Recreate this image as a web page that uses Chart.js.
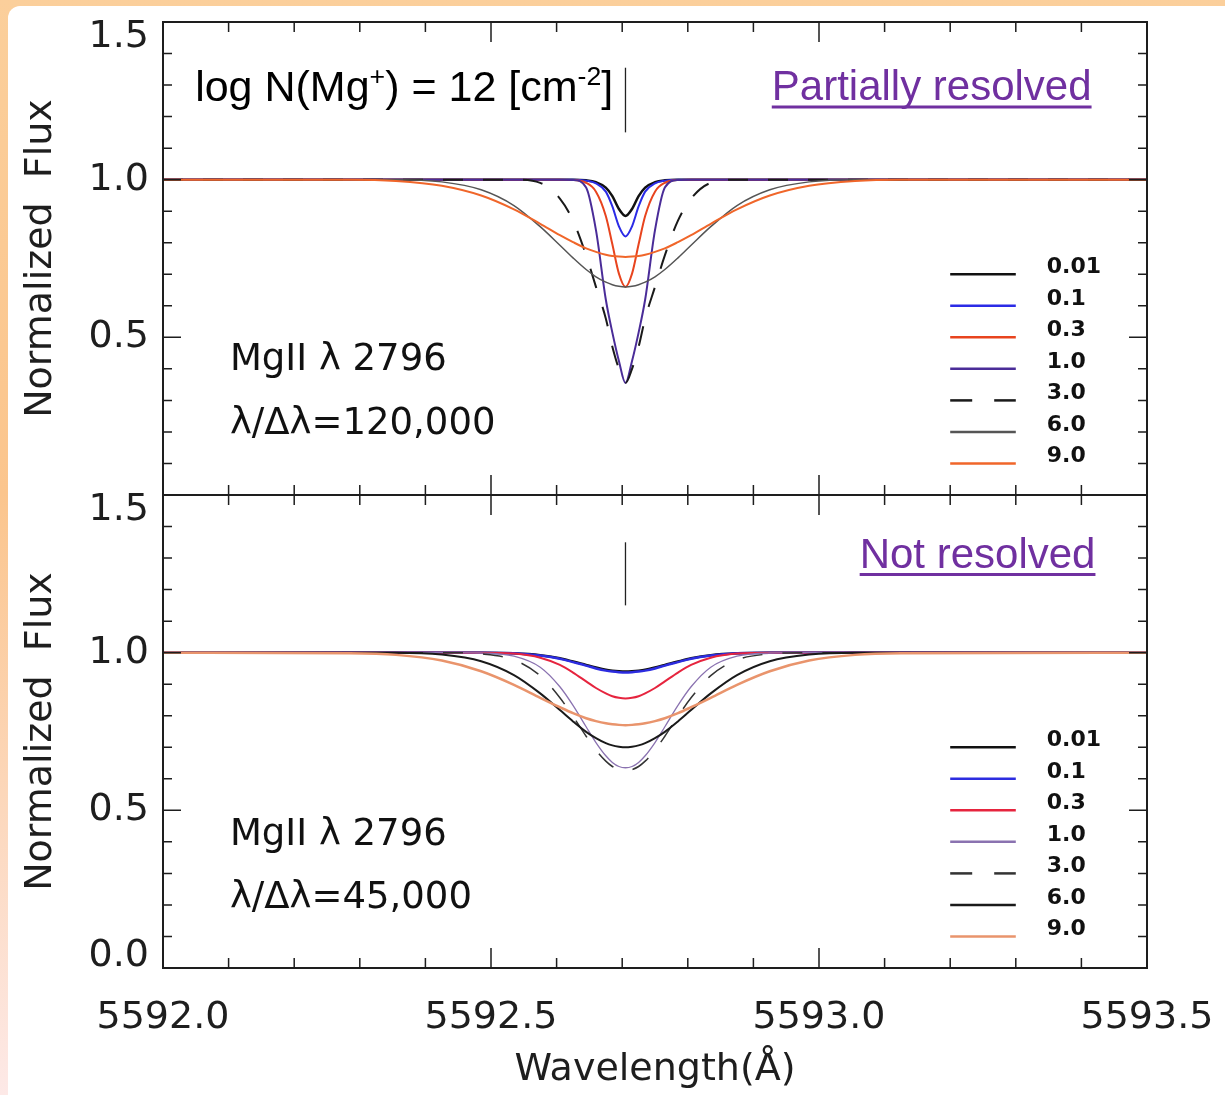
<!DOCTYPE html>
<html lang="en">
<head>
  <meta charset="UTF-8">
  <title>MgII 2796 profiles</title>
  <style>
    * {
      margin: 0;
      padding: 0;
      box-sizing: border-box;
    }

    body {
      width: 1225px;
      height: 1095px;
      overflow: hidden;
      position: relative;
      background: linear-gradient(to bottom, #fbcf9b 0%, #fbc58d 45%, #fde9e7 100%);
    }

    #paper {
      position: absolute;
      left: 8px;
      top: 6px;
      width: 1217px;
      height: 1089px;
      background: #fff;
      border-top-left-radius: 12px;
    }

    canvas {
      position: absolute;
      left: 0;
      top: 0;
    }
  </style>
  <script src="https://cdn.jsdelivr.net/npm/chart.js"></script>
</head>
<body>
  <div id="paper"></div>
  <canvas id="topChart" width="1225" height="1095"></canvas>
  <canvas id="bottomChart" width="1225" height="1095"></canvas>

  <script>
    // Wavelength grid (Angstrom), denser around the line centre
    const wavelength = [
      5592.0, 5592.285, 5592.355, 5592.425, 5592.485, 5592.535, 5592.575, 5592.605,
      5592.625, 5592.645, 5592.66, 5592.675, 5592.685, 5592.695, 5592.705,
      5592.715, 5592.725, 5592.735, 5592.75, 5592.765, 5592.785, 5592.805,
      5592.835, 5592.875, 5592.925, 5592.985, 5593.055, 5593.125, 5593.5
    ];

    const bValues = ['0.01', '0.1', '0.3', '1.0', '3.0', '6.0', '9.0'];

    // R = 120,000 profiles
    const hiRes001 = [1, 1, 1, 1, 1, 1, 1, 1, 1, 0.998, 0.992, 0.975, 0.948, 0.907, 0.885, 0.907, 0.948, 0.975, 0.992, 0.998, 1, 1, 1, 1, 1, 1, 1, 1, 1];
    const hiRes01  = [1, 1, 1, 1, 1, 1, 1, 1, 1, 0.997, 0.988, 0.962, 0.915, 0.852, 0.820, 0.852, 0.915, 0.962, 0.988, 0.997, 1, 1, 1, 1, 1, 1, 1, 1, 1];
    const hiRes03  = [1, 1, 1, 1, 1, 1, 1, 1, 0.999, 0.990, 0.962, 0.885, 0.795, 0.702, 0.660, 0.702, 0.795, 0.885, 0.962, 0.990, 0.999, 1, 1, 1, 1, 1, 1, 1, 1];
    const hiRes1   = [1, 1, 1, 1, 1, 1, 1, 1, 0.999, 0.975, 0.840, 0.620, 0.515, 0.425, 0.355, 0.425, 0.515, 0.620, 0.840, 0.975, 0.999, 1, 1, 1, 1, 1, 1, 1, 1];
    const hiRes3   = [1, 1, 1, 1, 1, 1, 0.990, 0.940, 0.870, 0.760, 0.660, 0.560, 0.470, 0.400, 0.355, 0.400, 0.470, 0.560, 0.660, 0.760, 0.870, 0.940, 0.990, 1, 1, 1, 1, 1, 1];
    const hiRes6   = [1, 1, 1, 0.993, 0.968, 0.918, 0.851, 0.792, 0.752, 0.715, 0.692, 0.675, 0.667, 0.662, 0.660, 0.662, 0.667, 0.675, 0.692, 0.715, 0.752, 0.792, 0.851, 0.918, 0.968, 0.993, 1, 1, 1];
    const hiRes9   = [1, 1, 0.996, 0.981, 0.950, 0.906, 0.860, 0.824, 0.802, 0.782, 0.771, 0.762, 0.758, 0.756, 0.755, 0.756, 0.758, 0.762, 0.771, 0.782, 0.802, 0.824, 0.860, 0.906, 0.950, 0.981, 0.996, 1, 1];

    // R = 45,000 profiles
    const loRes001 = [1, 1, 1, 1, 1, 0.998, 0.992, 0.982, 0.972, 0.961, 0.953, 0.946, 0.943, 0.941, 0.940, 0.941, 0.943, 0.946, 0.953, 0.961, 0.972, 0.982, 0.992, 0.998, 1, 1, 1, 1, 1];
    const loRes01  = [1, 1, 1, 1, 1, 0.998, 0.991, 0.981, 0.970, 0.959, 0.950, 0.943, 0.940, 0.938, 0.937, 0.938, 0.940, 0.943, 0.950, 0.959, 0.970, 0.981, 0.991, 0.998, 1, 1, 1, 1, 1];
    const loRes03  = [1, 1, 1, 1, 1, 0.997, 0.984, 0.961, 0.937, 0.909, 0.888, 0.871, 0.862, 0.857, 0.855, 0.857, 0.862, 0.871, 0.888, 0.909, 0.937, 0.961, 0.984, 0.997, 1, 1, 1, 1, 1];
    const loRes1   = [1, 1, 1, 1, 0.999, 0.989, 0.954, 0.892, 0.833, 0.765, 0.715, 0.673, 0.652, 0.639, 0.635, 0.639, 0.652, 0.673, 0.715, 0.765, 0.833, 0.892, 0.954, 0.989, 0.999, 1, 1, 1, 1];
    const loRes3   = [1, 1, 1, 1, 0.996, 0.977, 0.927, 0.857, 0.798, 0.735, 0.691, 0.656, 0.639, 0.629, 0.625, 0.629, 0.639, 0.656, 0.691, 0.735, 0.798, 0.857, 0.927, 0.977, 0.996, 1, 1, 1, 1];
    const loRes6   = [1, 1, 1, 0.994, 0.973, 0.929, 0.871, 0.818, 0.782, 0.749, 0.729, 0.713, 0.706, 0.702, 0.700, 0.702, 0.706, 0.713, 0.729, 0.749, 0.782, 0.818, 0.871, 0.929, 0.973, 0.994, 1, 1, 1];
    const loRes9   = [1, 0.998, 0.993, 0.975, 0.941, 0.898, 0.857, 0.827, 0.808, 0.792, 0.783, 0.776, 0.773, 0.771, 0.770, 0.771, 0.773, 0.776, 0.783, 0.792, 0.808, 0.827, 0.857, 0.898, 0.941, 0.975, 0.993, 0.998, 1];

    // rest wavelength marker (x) and its flux extent in each panel
    const markerX = 5592.705;
    const markerTopFlux = [1.15, 1.355];
    const markerBottomFlux = [1.15, 1.35];

    const xTickLabels = ['5592.0', '5592.5', '5593.0', '5593.5'];
    const yTickLabels = ['0.0', '0.5', '1.0', '1.5'];

    const hiStyles = [
      { color: '#111111', width: 2.5 },
      { color: '#2b2be6', width: 2 },
      { color: '#e8441e', width: 2 },
      { color: '#4a2c98', width: 2 },
      { color: '#1a1a1a', width: 2, dash: [20, 20] },
      { color: '#555555', width: 1.5 },
      { color: '#f0662a', width: 2 }
    ];
    const loStyles = [
      { color: '#111111', width: 2.5 },
      { color: '#2c2ce0', width: 2.5 },
      { color: '#e6243e', width: 2 },
      { color: '#8a72b0', width: 1.3 },
      { color: '#333333', width: 1.5, dash: [20, 20] },
      { color: '#1a1a1a', width: 2 },
      { color: '#e9946c', width: 2.5 }
    ];

    const axisFont = { family: 'DejaVu Sans', size: 38 };
    const inkColor = '#1e1e1e';

    function profileSets(fluxes, styles) {
      const n = fluxes.length;
      return fluxes.map((f, i) => ({
        label: bValues[i],
        data: wavelength.map((w, j) => ({ x: w, y: f[j] })),
        borderColor: styles[i].color,
        borderWidth: styles[i].width,
        borderDash: styles[i].dash || [],
        pointRadius: 0,
        fill: false,
        cubicInterpolationMode: 'monotone',
        order: n - i
      }));
    }

    function markerSet(fluxRange) {
      return {
        label: 'marker',
        data: fluxRange.map(f => ({ x: markerX, y: f })),
        borderColor: '#222',
        borderWidth: 1.3,
        pointRadius: 0,
        tension: 0,
        order: 20
      };
    }

    // frame, inward ticks, y labels, legend and text for one panel
    const panelDecor = {
      id: 'panelDecor',
      afterDatasetsDraw(chart, args, o) {
        const ctx = chart.ctx;
        const a = chart.chartArea;
        const xs = chart.scales.x;
        const ys = chart.scales.y;
        ctx.save();

        ctx.strokeStyle = inkColor;
        ctx.lineWidth = 2;
        ctx.strokeRect(a.left, a.top, a.right - a.left, a.bottom - a.top);

        ctx.lineWidth = 1.5;
        ctx.beginPath();
        for (let i = 0; i <= 15; i++) {
          const px = xs.getPixelForValue(xs.min + i * 0.1);
          const len = i % 5 === 0 ? 20 : 10;
          ctx.moveTo(px, a.top); ctx.lineTo(px, a.top + len);
          ctx.moveTo(px, a.bottom); ctx.lineTo(px, a.bottom - len);
        }
        for (let i = 0; i <= 15; i++) {
          const py = ys.getPixelForValue(i * 0.1);
          const len = i % 5 === 0 ? 18 : 9;
          ctx.moveTo(a.left, py); ctx.lineTo(a.left + len, py);
          ctx.moveTo(a.right, py); ctx.lineTo(a.right - len, py);
        }
        ctx.stroke();

        // y tick labels, the end ones pulled inside the panel
        ctx.fillStyle = inkColor;
        ctx.font = '38px "DejaVu Sans"';
        ctx.textAlign = 'right';
        ctx.textBaseline = 'middle';
        yTickLabels.forEach(t => {
          const v = parseFloat(t);
          if (o.skipZero && v === 0) return;
          let py = ys.getPixelForValue(v);
          if (v === ys.max) py += 15;
          if (v === ys.min) py -= 12;
          ctx.fillText(t, a.left - 14, py);
        });

        // legend: line sample + b value
        const sets = chart.data.datasets.filter(d => bValues.includes(d.label));
        const x0 = xs.getPixelForValue(5593.2);
        const x1 = xs.getPixelForValue(5593.3);
        ctx.font = 'bold 22px "DejaVu Sans"';
        ctx.textAlign = 'left';
        sets.forEach((d, i) => {
          const py = ys.getPixelForValue(0.7 - i * 0.1);
          ctx.strokeStyle = d.borderColor;
          ctx.lineWidth = 2.5;
          ctx.setLineDash(d.borderDash.length ? [22, 22] : []);
          ctx.beginPath();
          ctx.moveTo(x0, py); ctx.lineTo(x1, py);
          ctx.stroke();
          ctx.setLineDash([]);
          ctx.fillStyle = '#111';
          ctx.fillText(d.label, x1 + 31, py - 7);
        });

        // annotations placed in data coordinates
        o.notes.forEach(n => {
          let px = xs.getPixelForValue(n.x);
          const py = ys.getPixelForValue(n.y);
          ctx.fillStyle = n.color || '#111';
          ctx.textAlign = 'left';
          ctx.textBaseline = 'alphabetic';
          const start = px;
          n.parts.forEach(p => {
            const size = p.sup ? n.size * 0.62 : n.size;
            ctx.font = size + 'px ' + n.family;
            ctx.fillText(p.t, px, p.sup ? py - n.size * 0.38 : py);
            px += ctx.measureText(p.t).width;
          });
          if (n.underline) {
            ctx.strokeStyle = n.color;
            ctx.lineWidth = 3;
            ctx.beginPath();
            ctx.moveTo(start, py + 7);
            ctx.lineTo(px, py + 7);
            ctx.stroke();
          }
        });

        ctx.restore();
      }
    };

    function yScale(showTitle) {
      return {
        type: 'linear',
        min: 0,
        max: 1.5,
        ticks: { display: false },
        grid: { display: false },
        border: { display: false },
        title: {
          display: showTitle,
          text: 'Normalized  Flux',
          color: inkColor,
          font: axisFont,
          padding: { top: 18, bottom: 0 }
        },
        afterFit: s => { s.width = 163; }
      };
    }

    const idl = '"DejaVu Sans"';
    const arial = '"Liberation Sans", Arial';

    new Chart(document.getElementById('topChart'), {
      type: 'line',
      data: {
        datasets: profileSets([hiRes001, hiRes01, hiRes03, hiRes1, hiRes3, hiRes6, hiRes9], hiStyles)
          .concat([markerSet(markerTopFlux)])
      },
      options: {
        responsive: false,
        animation: false,
        events: [],
        layout: { padding: { left: 0, top: 22, right: 78, bottom: 600 } },
        scales: {
          x: { type: 'linear', min: 5592, max: 5593.5, display: false },
          y: yScale(true)
        },
        plugins: {
          legend: { display: false },
          tooltip: { enabled: false },
          panelDecor: {
            skipZero: true,
            notes: [
              { x: 5592.049, y: 1.248, size: 43, family: arial, color: '#000',
                parts: [{ t: 'log N(Mg' }, { t: '+', sup: true }, { t: ') = 12 [cm' }, { t: '-2', sup: true }, { t: ']' }] },
              { x: 5592.928, y: 1.253, size: 42, family: arial, color: '#7030a0', underline: true,
                parts: [{ t: 'Partially resolved' }] },
              { x: 5592.102, y: 0.395, size: 37, family: idl, parts: [{ t: 'MgII λ 2796' }] },
              { x: 5592.102, y: 0.195, size: 37, family: idl, parts: [{ t: 'λ/Δλ=120,000' }] }
            ]
          }
        }
      },
      plugins: [panelDecor]
    });

    new Chart(document.getElementById('bottomChart'), {
      type: 'line',
      data: {
        datasets: profileSets([loRes001, loRes01, loRes03, loRes1, loRes3, loRes6, loRes9], loStyles)
          .concat([markerSet(markerBottomFlux)])
      },
      options: {
        responsive: false,
        animation: false,
        events: [],
        layout: { padding: { left: 0, top: 495, right: 78, bottom: 0 } },
        scales: {
          x: {
            type: 'linear',
            min: 5592,
            max: 5593.5,
            grid: { display: false },
            border: { display: false },
            ticks: {
              stepSize: 0.5,
              autoSkip: false,
              maxRotation: 0,
              padding: 19,
              color: inkColor,
              font: axisFont,
              callback: (v, i) => xTickLabels[i]
            },
            title: {
              display: true,
              text: 'Wavelength(Å)',
              color: inkColor,
              font: axisFont,
              padding: { top: 0, bottom: 2 }
            },
            afterFit: s => {
              s.height = 127;
              s.paddingLeft = 0;
              s.paddingRight = 0;
            }
          },
          y: yScale(true)
        },
        plugins: {
          legend: { display: false },
          tooltip: { enabled: false },
          panelDecor: {
            skipZero: false,
            notes: [
              { x: 5593.062, y: 1.27, size: 42, family: arial, color: '#7030a0', underline: true,
                parts: [{ t: 'Not resolved' }] },
              { x: 5592.102, y: 0.39, size: 37, family: idl, parts: [{ t: 'MgII λ 2796' }] },
              { x: 5592.102, y: 0.19, size: 37, family: idl, parts: [{ t: 'λ/Δλ=45,000' }] }
            ]
          }
        }
      },
      plugins: [panelDecor]
    });
  </script>
</body>
</html>
